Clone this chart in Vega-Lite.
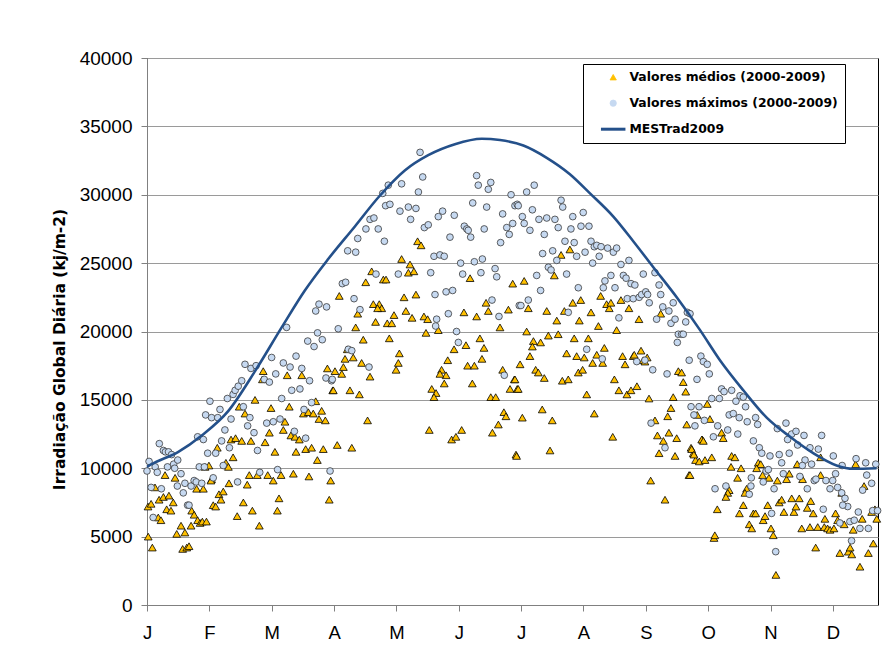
{
"$schema":"https://vega.github.io/schema/vega-lite/v6.json",
"width":731,"height":547,
"autosize":{"type":"none"},
"padding":{"left":147,"top":58,"right":15,"bottom":51},
"background":"#ffffff",
"config":{"font":"Liberation Sans","view":{"stroke":"#000000","strokeWidth":1},
"legend":{"orient":"none","legendX":436,"legendY":6,"title":null,"strokeColor":"#000000","fillColor":"#ffffff","padding":7,"symbolOffset":17,"labelFont":"DejaVu Sans","labelFontSize":12.4,"labelFontWeight":"bold","labelColor":"#000000","labelOffset":10,"rowPadding":13,"labelLimit":600,"symbolSize":600,"labelExpr":"datum.label + '\u00a0\u00a0\u00a0\u00a0\u00a0\u00a0\u00a0\u00a0\u00a0\u00a0\u00a0\u00a0'"}},
"datasets":{
"medios":[
{"d":0.6,"v":5000},{"d":2.6,"v":4200},{"d":0.5,"v":7200},{"d":2,"v":7400},{"d":3.9,"v":8600},{"d":5.9,"v":7700},{"d":8,"v":7900},{"d":10.7,"v":8000},{"d":8.8,"v":9500},{"d":5.5,"v":6400},{"d":6.8,"v":6200},{"d":9.6,"v":7000},{"d":11.7,"v":6900},{"d":12.8,"v":7500},{"d":13.7,"v":9300},{"d":14.5,"v":5200},{"d":16.6,"v":5800},{"d":18.5,"v":5300},{"d":17.4,"v":4100},{"d":19.4,"v":4200},{"d":20.5,"v":4300},{"d":21.8,"v":6900},{"d":23,"v":6600},{"d":24.7,"v":6200},{"d":25.9,"v":6000},{"d":21.5,"v":5800},{"d":24.2,"v":8500},{"d":27.5,"v":8500},{"d":27,"v":6100},{"d":29,"v":6100},{"d":28.3,"v":10100},{"d":30.2,"v":10200},{"d":31.5,"v":9200},
{"d":34.3,"v":11500},{"d":38.5,"v":10400},{"d":39.7,"v":10100},{"d":31.2,"v":9100},{"d":35.1,"v":8100},{"d":37.2,"v":8300},{"d":36.1,"v":7700},{"d":32.3,"v":7300},{"d":33.5,"v":7200},{"d":40,"v":8900},{"d":42,"v":10800},{"d":41,"v":12100},{"d":43.2,"v":12200},{"d":46.2,"v":12000},{"d":45,"v":14500},{"d":47.8,"v":14000},{"d":52.7,"v":15000},{"d":49.9,"v":9500},{"d":48.9,"v":8800},{"d":47,"v":7500},{"d":44,"v":6500},{"d":51.4,"v":6900},{"d":54.8,"v":5800},{"d":50.7,"v":12000},{"d":53.8,"v":9500},{"d":57.6,"v":11900},{"d":56.7,"v":17100},{"d":56.3,"v":16500},{"d":60.5,"v":14400},{"d":59.7,"v":12600},{"d":58.9,"v":9500},{"d":61.6,"v":9100},{"d":62.4,"v":11200},{"d":63.6,"v":6900},{"d":64.4,"v":7800},{"d":65.4,"v":9500},{"d":66.5,"v":12800},{"d":67.3,"v":13400},{"d":68.4,"v":16800},{"d":69.4,"v":14500},{"d":70.2,"v":12400},{"d":72.2,"v":12300},{"d":74.3,"v":12100},{"d":71.4,"v":9600},{"d":72.7,"v":11200},{"d":75.5,"v":16800},{"d":76.3,"v":14000},{"d":78.7,"v":14100},{"d":81.1,"v":14000},{"d":85.2,"v":14200},{"d":77.4,"v":11400},{"d":80.3,"v":11500},{"d":79,"v":9400},{"d":82.3,"v":14900},{"d":83.9,"v":13600},{"d":87,"v":13500},{"d":83.1,"v":10600},{"d":86,"v":11400},{"d":88,"v":17300},{"d":90.6,"v":15700},{"d":89.6,"v":9100},{"d":88.9,"v":7700},
{"d":90.9,"v":15700},{"d":91.7,"v":17100},{"d":95,"v":16900},{"d":95.8,"v":17400},{"d":96.6,"v":18000},{"d":100.6,"v":18100},{"d":97.7,"v":18700},{"d":99,"v":15700},{"d":103.6,"v":15400},{"d":92.8,"v":11700},{"d":99.9,"v":11500},{"d":93.8,"v":22600},{"d":101.8,"v":20300},{"d":102.8,"v":21300},{"d":104.7,"v":17700},{"d":105.5,"v":19400},{"d":106.7,"v":23600},{"d":107.6,"v":13500},{"d":108.8,"v":16700},{"d":109.6,"v":24400},{"d":110.4,"v":22000},{"d":113.3,"v":22000},{"d":114.5,"v":21700},{"d":112.5,"v":21700},{"d":111.5,"v":20700},{"d":115.3,"v":23800},{"d":116.6,"v":23800},{"d":117.2,"v":20600},{"d":119.4,"v":20600},{"d":118.2,"v":19500},{"d":120.5,"v":21200},{"d":121.5,"v":17200},{"d":122.6,"v":17700},{"d":123.1,"v":18400},{"d":124.2,"v":25300},{"d":125.4,"v":22500},{"d":126.3,"v":21500},{"d":127.5,"v":24300},{"d":128.3,"v":24900},{"d":130.2,"v":24400},{"d":129.3,"v":21000},{"d":131.2,"v":22700},{"d":132,"v":26600},{"d":133.7,"v":26300},{"d":135.1,"v":21100},{"d":136.9,"v":20900},{"d":136.1,"v":19900},{"d":137.7,"v":12800},{"d":138.9,"v":15800},{"d":141,"v":15500},{"d":140,"v":15200},{"d":142.1,"v":20100},{"d":143.7,"v":17200},{"d":145.9,"v":16800},{"d":142.9,"v":16900},{"d":145,"v":16200},{"d":146.7,"v":17900},{"d":148.6,"v":12100},{"d":150.7,"v":12300},{"d":149.8,"v":18700},{"d":153.5,"v":12800},{"d":154.6,"v":21400},{"d":155.6,"v":19000},{"d":156.4,"v":17500},{"d":159.7,"v":17500},{"d":157.6,"v":23900},{"d":158.7,"v":16200},{"d":160.8,"v":21100},{"d":162.4,"v":19500},{"d":163.4,"v":18000},{"d":164.4,"v":18800},{"d":165.4,"v":22100},{"d":166.5,"v":21500},{"d":168.5,"v":12600},{"d":167.7,"v":15200},{"d":170.1,"v":15200},{"d":171.4,"v":13200},{"d":172.2,"v":20300},{"d":173.5,"v":17200},{"d":174.1,"v":14100},{"d":175.1,"v":13800},{"d":176.3,"v":21600},{"d":178.4,"v":23500},{"d":179.2,"v":16500},{"d":177.1,"v":15800},{"d":180.6,"v":15800},{"d":180,"v":11000},
{"d":184,"v":23700},{"d":186,"v":21700},{"d":195,"v":21500},{"d":185.2,"v":20000},{"d":188.5,"v":19300},{"d":188,"v":18900},{"d":192,"v":19200},{"d":186.8,"v":18200},{"d":182,"v":17600},{"d":189.6,"v":17200},{"d":190.9,"v":17000},{"d":193.8,"v":16600},{"d":179.5,"v":16500},{"d":181.1,"v":15800},{"d":195.8,"v":19700},{"d":200.6,"v":19800},{"d":199.9,"v":20800},{"d":198.7,"v":24100},{"d":202,"v":25600},{"d":206.3,"v":26000},{"d":203.6,"v":21500},{"d":207.7,"v":22100},{"d":211.6,"v":22300},{"d":210.9,"v":20800},{"d":204.7,"v":18400},{"d":209.6,"v":18200},{"d":213.3,"v":18100},{"d":208.4,"v":19500},{"d":215.3,"v":19500},{"d":202.6,"v":16400},{"d":205.5,"v":16500},{"d":210.4,"v":17000},{"d":212.5,"v":17200},{"d":214.5,"v":15400},{"d":216.6,"v":21400},{"d":217.4,"v":17700},{"d":219.4,"v":18300},{"d":222.3,"v":17700},{"d":223.1,"v":18800},{"d":220.2,"v":20400},{"d":221.3,"v":22600},{"d":224.2,"v":22000},{"d":225.5,"v":21700},{"d":226.3,"v":22100},{"d":229.1,"v":20100},{"d":231.2,"v":22300},{"d":235.1,"v":21700},{"d":228,"v":16500},{"d":230.2,"v":15700},{"d":234.1,"v":15400},{"d":236.1,"v":15700},{"d":239,"v":16000},{"d":232,"v":18200},{"d":233.2,"v":17600},{"d":237.2,"v":18200},{"d":237.7,"v":18300},{"d":241,"v":18600},{"d":242.1,"v":17900},{"d":242.9,"v":17800},{"d":244,"v":18100},{"d":240,"v":20900},{"d":244.9,"v":15100},{"d":250.6,"v":21300},{"d":259.2,"v":17100},{"d":260.8,"v":17000},{"d":261.6,"v":16300},{"d":262.8,"v":15600},{"d":256.7,"v":15200},{"d":255.6,"v":14400},{"d":254,"v":13800},{"d":247.8,"v":13500},{"d":249,"v":12400},{"d":251.9,"v":12000},{"d":254.6,"v":12600},{"d":258.4,"v":12200},{"d":249.8,"v":11100},{"d":257.6,"v":10900},{"d":263.3,"v":13200},{"d":265.4,"v":11500},{"d":266.5,"v":11100},{"d":267.6,"v":10600},{"d":270.9,"v":12100},{"d":264.4,"v":9500},{"d":245.7,"v":9100},{"d":252.7,"v":7700},{"d":227.2,"v":12300},{"d":218.2,"v":14000},{"d":183.1,"v":13700},{"d":197.7,"v":13500},{"d":192.8,"v":14300},{"d":196.6,"v":11300},{"d":180.3,"v":10900},
{"d":273.3,"v":14700},{"d":274.6,"v":13600},{"d":268.4,"v":13900},{"d":270.6,"v":12100},{"d":271.4,"v":12000},{"d":280.3,"v":12600},{"d":281.1,"v":12200},{"d":265.7,"v":11400},{"d":266.8,"v":11000},{"d":269.4,"v":10500},{"d":272.2,"v":10600},{"d":275.5,"v":10800},{"d":264.9,"v":9500},{"d":285.2,"v":10900},{"d":286.8,"v":10800},{"d":284.9,"v":10100},{"d":289.8,"v":10000},{"d":288.1,"v":9300},{"d":298.2,"v":10400},{"d":299.4,"v":10300},{"d":297.4,"v":10000},{"d":300.3,"v":9500},{"d":303.4,"v":9300},{"d":307.5,"v":9100},{"d":312,"v":9200},{"d":313.3,"v":9600},{"d":317.2,"v":10300},{"d":319.8,"v":9200},{"d":328.6,"v":9500},{"d":284,"v":8400},{"d":283.3,"v":8200},{"d":282.4,"v":7900},{"d":292.5,"v":8500},{"d":291.7,"v":8200},{"d":278.2,"v":7000},{"d":289,"v":6700},{"d":290.9,"v":7300},{"d":295.8,"v":6700},{"d":296.9,"v":6700},{"d":300.6,"v":6200},{"d":301.5,"v":6500},{"d":293.8,"v":5900},{"d":295,"v":5600},{"d":302.8,"v":7300},{"d":304.4,"v":5600},{"d":305.5,"v":5100},{"d":308.4,"v":7500},{"d":309.6,"v":7700},{"d":310.7,"v":6800},{"d":314.5,"v":7800},{"d":315.6,"v":6800},{"d":316.6,"v":7200},{"d":318.2,"v":7800},{"d":322.1,"v":7100},{"d":323.8,"v":7600},{"d":325,"v":6700},{"d":319.4,"v":5600},{"d":323.4,"v":5700},{"d":327.2,"v":5700},{"d":330.4,"v":5700},{"d":332,"v":5600},{"d":333.2,"v":5500},{"d":335.1,"v":5600},{"d":335.9,"v":6700},{"d":336.9,"v":6200},{"d":330.7,"v":6300},{"d":340.1,"v":5900},{"d":344.5,"v":5500},{"d":348.9,"v":6300},{"d":338.9,"v":8200},{"d":326.2,"v":4200},{"d":338,"v":3800},{"d":342.1,"v":3900},{"d":343.8,"v":3700},{"d":343,"v":4200},{"d":347.8,"v":2800},{"d":351.9,"v":3800},{"d":354.3,"v":4500},{"d":353.5,"v":6800},{"d":355.1,"v":7000},{"d":356,"v":6300},{"d":345.7,"v":10300},{"d":349.8,"v":8700},{"d":328.6,"v":10800},{"d":306.8,"v":2200},{"d":276.6,"v":4900},{"d":277,"v":5100}
],
"maximos":[
{"d":0,"v":9800},{"d":1,"v":10500},{"d":4,"v":10100},{"d":5,"v":9700},{"d":6,"v":11800},{"d":8,"v":11300},{"d":9,"v":11200},{"d":10.5,"v":11200},{"d":12,"v":11000},{"d":2,"v":8600},{"d":7,"v":8500},{"d":3,"v":6400},{"d":10,"v":10100},{"d":13,"v":10300},{"d":15,"v":10600},{"d":13.5,"v":10000},{"d":16.6,"v":9600},{"d":14.8,"v":8700},{"d":17.7,"v":8200},{"d":18.5,"v":8900},{"d":21.5,"v":8700},{"d":23,"v":9100},{"d":24,"v":9000},{"d":26.7,"v":8900},{"d":19.8,"v":7300},{"d":20.5,"v":7300},{"d":25.5,"v":10100},{"d":28,"v":10100},{"d":24.7,"v":12300},{"d":27.5,"v":12100},{"d":29.6,"v":11100},{"d":33.5,"v":11100},{"d":30.7,"v":14900},
{"d":28.6,"v":13900},{"d":31.5,"v":13700},{"d":34.5,"v":13700},{"d":35.6,"v":14300},{"d":36.4,"v":12000},{"d":38,"v":12800},{"d":39.2,"v":15100},{"d":42,"v":15400},{"d":41,"v":13600},{"d":40.2,"v":11500},{"d":37.2,"v":10200},{"d":43,"v":15700},{"d":44.5,"v":16000},{"d":46.2,"v":16400},{"d":47.8,"v":17600},{"d":50.7,"v":17300},{"d":53.2,"v":17500},{"d":47,"v":14500},{"d":50.2,"v":13700},{"d":49.1,"v":13100},{"d":52.2,"v":12600},{"d":53.9,"v":11300},{"d":44.2,"v":9000},{"d":32.3,"v":9300},{"d":55,"v":9700},{"d":57.2,"v":16500},{"d":59.7,"v":16300},{"d":60.8,"v":18100},{"d":58.4,"v":13300},{"d":61.6,"v":13400},{"d":64.9,"v":13600},{"d":62.8,"v":16900},{"d":63.7,"v":9900},{"d":65.7,"v":15100},{"d":66.5,"v":17700},{"d":69.8,"v":17400},{"d":71.9,"v":12700},{"d":72.7,"v":18200},{"d":75.5,"v":17300},{"d":70.6,"v":15700},{"d":74.6,"v":15800},{"d":77.4,"v":12200},{"d":68.1,"v":20300},{"d":76.6,"v":14300},{"d":80.3,"v":14800},{"d":79.3,"v":16400},{"d":78.4,"v":19300},{"d":81.5,"v":18900},{"d":83.2,"v":19900},{"d":85.5,"v":19400},{"d":82.3,"v":21500},{"d":83.9,"v":22000},{"d":87.6,"v":21800},{"d":87.3,"v":16600},{"d":90,"v":16400},{"d":89.3,"v":9800},
{"d":93.3,"v":20200},{"d":95.3,"v":23500},{"d":96.9,"v":23600},{"d":97.9,"v":25900},{"d":101.8,"v":25800},{"d":101,"v":22400},{"d":103.9,"v":21600},{"d":102.8,"v":26800},{"d":106.8,"v":27500},{"d":108.8,"v":28200},{"d":110.7,"v":28300},{"d":111.7,"v":24200},{"d":112.8,"v":27500},{"d":115.8,"v":26600},{"d":115,"v":30100},{"d":116.4,"v":29200},{"d":118.5,"v":29300},{"d":117.7,"v":30700},{"d":122.6,"v":24200},{"d":123.4,"v":28800},{"d":124.2,"v":30800},{"d":127.5,"v":29100},{"d":128.6,"v":28200},{"d":131.2,"v":29000},{"d":132.4,"v":30200},{"d":133.2,"v":33100},{"d":134.5,"v":31300},{"d":135.3,"v":27600},{"d":137.2,"v":27800},{"d":138.4,"v":24300},{"d":140,"v":25500},{"d":140.8,"v":20400},{"d":141.3,"v":20900},{"d":140.5,"v":22700},{"d":142.1,"v":28400},{"d":144.2,"v":28800},{"d":142.9,"v":25600},{"d":145,"v":25500},{"d":145.9,"v":22900},{"d":149.1,"v":23000},{"d":147,"v":21300},{"d":147.8,"v":26900},{"d":149.9,"v":28500},{"d":151,"v":20000},{"d":151.9,"v":19200},{"d":153,"v":25000},{"d":154,"v":24200},{"d":154.8,"v":27700},{"d":156,"v":27500},{"d":156.7,"v":27400},{"d":157.9,"v":26900},{"d":158.9,"v":29400},{"d":159.7,"v":25100},{"d":163.6,"v":25300},{"d":160.8,"v":31400},{"d":161.6,"v":30700},{"d":166.5,"v":30400},{"d":167.7,"v":30900},{"d":162.9,"v":24300},{"d":164.5,"v":27500},{"d":165.7,"v":29100},{"d":168.3,"v":22300},{"d":169.8,"v":24600},{"d":170.6,"v":24000},{"d":171.7,"v":21100},{"d":172.5,"v":26500},{"d":173.5,"v":28600},{"d":175.5,"v":27600},{"d":176.7,"v":27100},{"d":178.4,"v":27900},{"d":177.6,"v":30000},{"d":179.5,"v":29200},{"d":180.6,"v":29300},{"d":181.6,"v":21900},{"d":174.3,"v":16800},{"d":90.4,"v":16500},{"d":98.2,"v":18700},{"d":99.9,"v":18600},{"d":108.3,"v":17400},
{"d":185.2,"v":30200},{"d":188.9,"v":30700},{"d":181.1,"v":29200},{"d":183.1,"v":28400},{"d":184,"v":27900},{"d":188,"v":28900},{"d":186.8,"v":27400},{"d":191.2,"v":28200},{"d":195,"v":28300},{"d":199,"v":28200},{"d":193.8,"v":27100},{"d":200.6,"v":27600},{"d":202,"v":29600},{"d":202.8,"v":29100},{"d":206.8,"v":27500},{"d":207.7,"v":28400},{"d":212.8,"v":28700},{"d":211.7,"v":27700},{"d":215.6,"v":27700},{"d":203.9,"v":26600},{"d":208.4,"v":26500},{"d":193,"v":25700},{"d":197.9,"v":25900},{"d":209.6,"v":25500},{"d":213.7,"v":25800},{"d":216.6,"v":26600},{"d":218.2,"v":26200},{"d":219.4,"v":26300},{"d":221.5,"v":26200},{"d":224.7,"v":26100},{"d":227.5,"v":25800},{"d":229.1,"v":26100},{"d":220.6,"v":25500},{"d":217.4,"v":25000},{"d":199.9,"v":25200},{"d":195.8,"v":24700},{"d":197.1,"v":24500},{"d":204.7,"v":24200},{"d":190.1,"v":24100},{"d":192,"v":23000},{"d":210.4,"v":23200},{"d":186,"v":22300},{"d":182.4,"v":21900},{"d":205.5,"v":21400},{"d":231.2,"v":24900},{"d":235.1,"v":25200},{"d":226.3,"v":24100},{"d":223.4,"v":23700},{"d":222.6,"v":23200},{"d":228.3,"v":23200},{"d":232.4,"v":24100},{"d":233.7,"v":23900},{"d":236.1,"v":23500},{"d":238,"v":23400},{"d":242.1,"v":24200},{"d":247.8,"v":24300},{"d":249.8,"v":23400},{"d":250.6,"v":22700},{"d":234.3,"v":22400},{"d":237.2,"v":22400},{"d":240.1,"v":22500},{"d":241.3,"v":22700},{"d":243.3,"v":22900},{"d":244.2,"v":22700},{"d":245,"v":22100},{"d":230.2,"v":21000},{"d":251.6,"v":21800},{"d":254.6,"v":21500},{"d":256.7,"v":22100},{"d":255.6,"v":20600},{"d":257.6,"v":20900},{"d":262.8,"v":20700},{"d":263.6,"v":21400},{"d":248.6,"v":20900},{"d":259.2,"v":19800},{"d":260.8,"v":19800},{"d":261.6,"v":19800},{"d":258.7,"v":19200},{"d":222.1,"v":18000},{"d":214.5,"v":18700},{"d":238.9,"v":17800},{"d":242.9,"v":17900},{"d":246.7,"v":17200},{"d":253.7,"v":16900},{"d":264.5,"v":17900},{"d":270.2,"v":18200},{"d":271.4,"v":17800},{"d":268.3,"v":16500},{"d":265.4,"v":14500},{"d":269.3,"v":14500},{"d":266.8,"v":13900},{"d":271.9,"v":13500},{"d":267.3,"v":13100},{"d":245.9,"v":13300},{"d":252.7,"v":11500},
{"d":264.9,"v":21300},{"d":273.3,"v":17600},{"d":274.3,"v":16900},{"d":275.5,"v":15100},{"d":279.2,"v":15100},{"d":280.3,"v":15800},{"d":281.5,"v":15600},{"d":285.2,"v":15700},{"d":287.3,"v":14900},{"d":289.3,"v":15300},{"d":290.9,"v":15200},{"d":292,"v":14500},{"d":284,"v":13900},{"d":286,"v":14000},{"d":288.9,"v":13700},{"d":278.4,"v":13100},{"d":276.3,"v":12300},{"d":283.3,"v":12800},{"d":288.2,"v":12500},{"d":292.8,"v":13400},{"d":296.9,"v":13700},{"d":297.9,"v":13200},{"d":295.8,"v":12000},{"d":298.7,"v":11500},{"d":299.9,"v":11100},{"d":303.9,"v":10900},{"d":307.5,"v":12900},{"d":311.7,"v":13300},{"d":308.4,"v":11000},{"d":309.6,"v":10400},{"d":313.3,"v":11100},{"d":312.5,"v":12100},{"d":314.5,"v":12500},{"d":316.6,"v":12700},{"d":320.5,"v":12400},{"d":317.4,"v":11700},{"d":329.1,"v":12400},{"d":323.4,"v":11500},{"d":327.5,"v":11400},{"d":321,"v":10600},{"d":324.2,"v":10300},{"d":319.7,"v":10200},{"d":334.8,"v":10900},{"d":339.1,"v":10200},{"d":345.9,"v":10700},{"d":350.6,"v":10400},{"d":355.5,"v":10300},{"d":294.8,"v":9300},{"d":300.6,"v":9000},{"d":302,"v":9800},{"d":303.1,"v":9900},{"d":305.9,"v":8500},{"d":310.4,"v":9600},{"d":318.5,"v":9400},{"d":322.1,"v":8500},{"d":325.5,"v":9100},{"d":326.3,"v":9200},{"d":331.2,"v":9100},{"d":333.2,"v":8500},{"d":334.5,"v":9100},{"d":336.9,"v":8600},{"d":335.9,"v":9600},{"d":338.9,"v":8200},{"d":340.5,"v":7800},{"d":341.8,"v":7200},{"d":339.4,"v":7300},{"d":329.9,"v":7000},{"d":347,"v":6800},{"d":351.1,"v":9500},{"d":353.5,"v":8900},{"d":349.1,"v":8400},{"d":354,"v":6900},{"d":356.4,"v":6900},{"d":338,"v":6000},{"d":342.9,"v":6100},{"d":345,"v":6200},{"d":347.8,"v":5600},{"d":351.9,"v":5600},{"d":343.7,"v":4700},{"d":304.7,"v":6700},{"d":306.7,"v":3900},{"d":294.6,"v":8700},{"d":293.8,"v":8100},{"d":277.1,"v":8500},{"d":282.4,"v":8700}
],
"mestrad":[
{"d":0,"v":10100},{"d":2.3,"v":10300},{"d":15.3,"v":11200},{"d":26.7,"v":12400},{"d":39.7,"v":14200},{"d":52.7,"v":17100},{"d":65.7,"v":20300},{"d":77,"v":23000},{"d":88.4,"v":25300},{"d":101.5,"v":27700},{"d":112.8,"v":29800},{"d":125.9,"v":31800},{"d":137.2,"v":32900},{"d":150.2,"v":33700},{"d":163.3,"v":34100},{"d":172.2,"v":34000},{"d":183.6,"v":33600},{"d":195,"v":32700},{"d":206.3,"v":31500},{"d":216.1,"v":30100},{"d":227.5,"v":28400},{"d":237.2,"v":26600},{"d":247,"v":24700},{"d":258.4,"v":22500},{"d":269.8,"v":20100},{"d":279.5,"v":17900},{"d":290.9,"v":15700},{"d":302.3,"v":13700},{"d":313.7,"v":12300},{"d":325,"v":11100},{"d":336.4,"v":10200},{"d":344.5,"v":9960},{"d":355.9,"v":10000}
],
"rotulo":[{"t":"Terceira / OJA"}]
},
"encoding":{
"x":{"field":"d","type":"quantitative","scale":{"domain":[0,356.6],"nice":false,"zero":false},
"axis":{"values":[0,30.42,60.83,91.25,121.67,152.08,182.5,212.92,243.33,273.75,304.17,334.58],"labelExpr":"['J','F','M','A','M','J','J','A','S','O','N','D'][round(datum.value/30.4167)]","grid":false,"title":null,"labelFont":"Liberation Sans","labelFontSize":18.5,"labelColor":"#000000","tickSize":6,"tickColor":"#808080","domainColor":"#808080","labelPadding":12,"labelFlush":false,"labelOverlap":false,"labelAlign":"center"}},
"y":{"field":"v","type":"quantitative","scale":{"domain":[0,40000],"nice":false},
"axis":{"values":[0,5000,10000,15000,20000,25000,30000,35000,40000],"format":"d","grid":true,"gridColor":"#9a9a9a","gridWidth":1,"labelFont":"Liberation Sans","labelFontSize":19,"labelColor":"#000000","tickSize":6,"tickColor":"#808080","domainColor":"#808080","labelPadding":9,"title":"Irradiação Global Diária (kj/m-2)","titleFont":"DejaVu Sans","titleFontSize":15.5,"titleFontWeight":"bold","titleColor":"#000000","titleX":-88,"titleY":291,"titleAngle":-90,"titleAlign":"center","titleBaseline":"middle"}}
},
"layer":[
{"data":{"name":"medios"},"mark":{"type":"point","shape":"triangle-up","filled":true,"size":60,"stroke":"#000000","strokeWidth":0.8,"opacity":1},
"encoding":{"color":{"datum":"Valores médios (2000-2009)","type":"nominal",
"scale":{"domain":["Valores médios (2000-2009)","Valores máximos (2000-2009)","MESTrad2009"],"range":["#FFC000","#C6D9F1","#24508A"]},
"legend":{"encode":{"symbols":{"update":{
"shape":{"signal":"datum.value === 'MESTrad2009' ? 'stroke' : (datum.value === 'Valores máximos (2000-2009)' ? 'circle' : 'triangle-up')"},
"size":{"signal":"datum.value === 'MESTrad2009' ? 600 : 40"},
"fill":{"signal":"datum.value === 'MESTrad2009' ? 'transparent' : (datum.value === 'Valores máximos (2000-2009)' ? '#C6D9F1' : '#FFC000')"},
"stroke":{"signal":"datum.value === 'MESTrad2009' ? '#24508A' : (datum.value === 'Valores máximos (2000-2009)' ? '#3a3a3a' : '#000000')"},
"strokeWidth":{"signal":"datum.value === 'MESTrad2009' ? 3 : 0.8"},
"opacity":{"value":1}}}}}}}},
{"data":{"name":"maximos"},"mark":{"type":"point","shape":"circle","filled":true,"size":45,"stroke":"#3a3a3a","strokeWidth":0.8,"opacity":1},
"encoding":{"color":{"datum":"Valores máximos (2000-2009)","type":"nominal",
"legend":{"encode":{"symbols":{"update":{
"shape":{"signal":"datum.value === 'MESTrad2009' ? 'stroke' : (datum.value === 'Valores máximos (2000-2009)' ? 'circle' : 'triangle-up')"},
"size":{"signal":"datum.value === 'MESTrad2009' ? 600 : 40"},
"fill":{"signal":"datum.value === 'MESTrad2009' ? 'transparent' : (datum.value === 'Valores máximos (2000-2009)' ? '#C6D9F1' : '#FFC000')"},
"stroke":{"signal":"datum.value === 'MESTrad2009' ? '#24508A' : (datum.value === 'Valores máximos (2000-2009)' ? '#3a3a3a' : '#000000')"},
"strokeWidth":{"signal":"datum.value === 'MESTrad2009' ? 3 : 0.8"},
"opacity":{"value":1}}}}}}}},
{"data":{"name":"mestrad"},"mark":{"type":"line","strokeWidth":2.6,"interpolate":"monotone"},
"encoding":{"color":{"datum":"MESTrad2009","type":"nominal",
"legend":{"encode":{"symbols":{"update":{
"shape":{"signal":"datum.value === 'MESTrad2009' ? 'stroke' : (datum.value === 'Valores máximos (2000-2009)' ? 'circle' : 'triangle-up')"},
"size":{"signal":"datum.value === 'MESTrad2009' ? 600 : 40"},
"fill":{"signal":"datum.value === 'MESTrad2009' ? 'transparent' : (datum.value === 'Valores máximos (2000-2009)' ? '#C6D9F1' : '#FFC000')"},
"stroke":{"signal":"datum.value === 'MESTrad2009' ? '#24508A' : (datum.value === 'Valores máximos (2000-2009)' ? '#3a3a3a' : '#000000')"},
"strokeWidth":{"signal":"datum.value === 'MESTrad2009' ? 3 : 0.8"},
"opacity":{"value":1}}}}}}}},
{"data":{"name":"rotulo"},"mark":{"type":"text","align":"left","baseline":"alphabetic","font":"Liberation Sans","fontSize":24.5,"color":"#000000"},
"encoding":{"x":{"datum":18.9},"y":{"datum":32730},"text":{"field":"t","type":"nominal"}}}
]
}
